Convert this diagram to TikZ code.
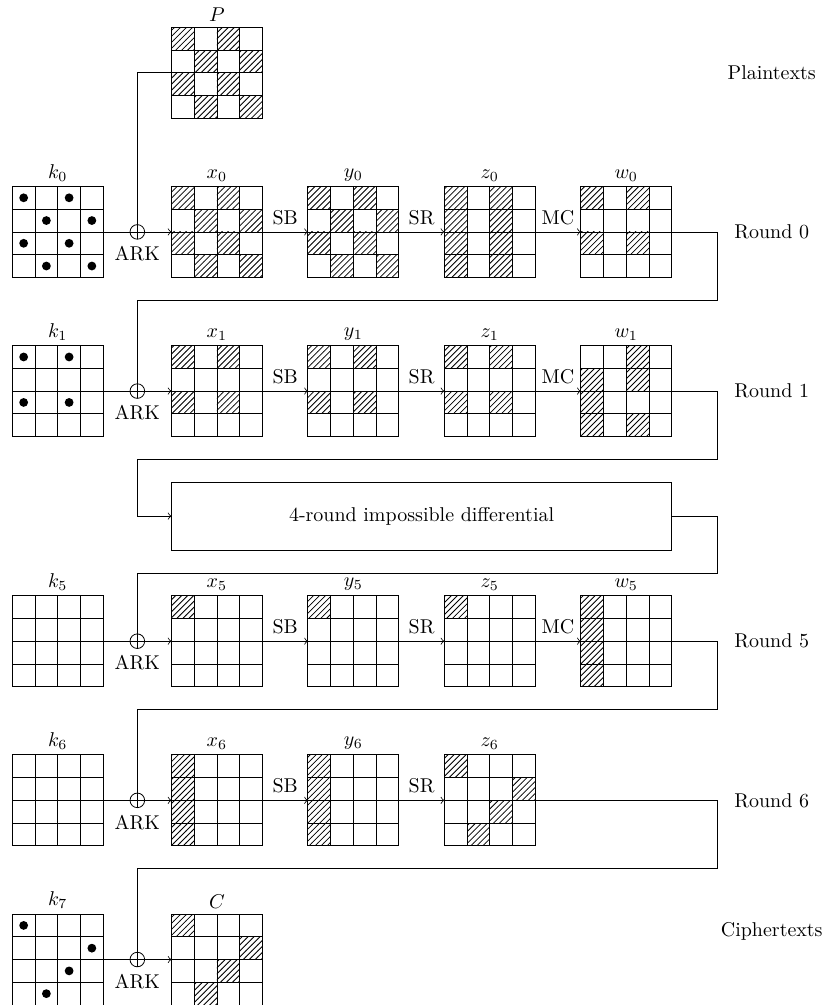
\documentclass[tikz,border=0pt]{standalone}
\usepackage{amsmath,amssymb}
\usepackage{tikz}
\usetikzlibrary{arrows.meta,patterns,positioning}
% 4x4 state: name, placement, label
\newcommand{\aesst}[3]{%
  \node[st,#2] (#1) {};
  \node[stlbl] (#1-lbl) at (#1.north) {$#3$};
  \foreach \i in {1,2,3}{
    \draw ([xshift=\i*4mm]#1.north west) -- ([xshift=\i*4mm]#1.south west);
    \draw ([yshift=-\i*4mm]#1.north west) -- ([yshift=-\i*4mm]#1.north east);
  }}
\newcommand{\hatchcells}[2]{%
  \foreach \c/\r in {#2}
    \draw[pattern=north east lines] ([xshift=\c*4mm,yshift=-\r*4mm]#1.north west) rectangle ++(4mm,-4mm);}
\newcommand{\keydots}[2]{%
  \foreach \c/\r in {#2}
    \fill ([xshift=\c*4mm+2mm,yshift=-\r*4mm-2mm]#1.north west) circle (2.2pt);}
% add-round-key xor
\newcommand{\ark}[2]{%
  \node[xor] (#1) at (#2) {};
  \draw (#1.north) -- (#1.south) (#1.west) -- (#1.east);
  \node[below] (#1-lbl) at (#1.south) {ARK};}

\begin{document}
\begin{tikzpicture}[x=4mm,y=4mm,>=to,
  st/.style={draw,minimum size=16mm,inner sep=0pt,outer sep=0pt},
  stlbl/.style={above,inner sep=2.5pt},
  xor/.style={draw,circle,minimum size=7.3pt,inner sep=0pt,outer sep=0pt},
  op/.style={midway,above},
  impbox/.style={draw,minimum width=88mm,minimum height=12mm,outer sep=0pt}]
  \useasboundingbox (-0.54,-36) rectangle (35.94,8.2);

  % round 0
  \aesst{k0}{at={(2,-2)}}{k_0}
  \aesst{x0}{right=12mm of k0}{x_0}
  \aesst{P}{above=12mm of x0}{P}
  \aesst{y0}{right=8mm of x0}{y_0}
  \aesst{z0}{right=8mm of y0}{z_0}
  \aesst{w0}{right=8mm of z0}{w_0}
  \keydots{k0}{0/0,2/0,1/1,3/1,0/2,2/2,1/3,3/3}
  \hatchcells{P}{0/0,2/0,1/1,3/1,0/2,2/2,1/3,3/3}
  \hatchcells{x0}{0/0,2/0,1/1,3/1,0/2,2/2,1/3,3/3}
  \hatchcells{y0}{0/0,2/0,1/1,3/1,0/2,2/2,1/3,3/3}
  \hatchcells{z0}{0/0,2/0,0/1,2/1,0/2,2/2,0/3,2/3}
  \hatchcells{w0}{0/0,2/0,0/2,2/2}
  \ark{a0}{[xshift=-6mm]x0.west}

  % round 1
  \aesst{k1}{below=12mm of k0}{k_1}
  \aesst{x1}{below=12mm of x0}{x_1}
  \aesst{y1}{right=8mm of x1}{y_1}
  \aesst{z1}{right=8mm of y1}{z_1}
  \aesst{w1}{right=8mm of z1}{w_1}
  \keydots{k1}{0/0,2/0,0/2,2/2}
  \hatchcells{x1}{0/0,2/0,0/2,2/2}
  \hatchcells{y1}{0/0,2/0,0/2,2/2}
  \hatchcells{z1}{0/0,2/0,0/2,2/2}
  \hatchcells{w1}{0/1,0/2,0/3,2/0,2/1,2/3}
  \ark{a1}{[xshift=-6mm]x1.west}

  \node[impbox,anchor=north west] (imp) at ([yshift=-8mm]x1.south west)
    {4-round impossible differential};

  % round 5
  \aesst{x5}{at={([yshift=-8mm]imp.south west)},anchor=north west}{x_5}
  \aesst{k5}{left=12mm of x5}{k_5}
  \aesst{y5}{right=8mm of x5}{y_5}
  \aesst{z5}{right=8mm of y5}{z_5}
  \aesst{w5}{right=8mm of z5}{w_5}
  \hatchcells{x5}{0/0}
  \hatchcells{y5}{0/0}
  \hatchcells{z5}{0/0}
  \hatchcells{w5}{0/0,0/1,0/2,0/3}
  \ark{a5}{[xshift=-6mm]x5.west}

  % round 6
  \aesst{k6}{below=12mm of k5}{k_6}
  \aesst{x6}{below=12mm of x5}{x_6}
  \aesst{y6}{right=8mm of x6}{y_6}
  \aesst{z6}{right=8mm of y6}{z_6}
  \hatchcells{x6}{0/0,0/1,0/2,0/3}
  \hatchcells{y6}{0/0,0/1,0/2,0/3}
  \hatchcells{z6}{0/0,3/1,2/2,1/3}
  \ark{a6}{[xshift=-6mm]x6.west}

  % final whitening
  \aesst{k7}{below=12mm of k6}{k_7}
  \aesst{C}{below=12mm of x6}{C}
  \keydots{k7}{0/0,3/1,2/2,1/3}
  \hatchcells{C}{0/0,3/1,2/2,1/3}
  \ark{a7}{[xshift=-6mm]C.west}

  % connections
  \draw (P.west) -| (a0.north);
  \foreach \r in {0,1,5,6}{
    \draw (k\r) -- (a\r);
    \draw[->] (a\r) -- (x\r);
    \draw[->] (x\r) -- node[op] (sb\r) {SB} (y\r);
    \draw[->] (y\r) -- node[op] (sr\r) {SR} (z\r);
  }
  \foreach \r in {0,1,5}
    \draw[->] (z\r) -- node[op] (mc\r) {MC} (w\r);
  \draw (k7) -- (a7);
  \draw[->] (a7) -- (C);
  \draw (w0.east) -- ++(8mm,0) -- ++(0,-12mm) -| (a1.north);
  \draw[->] (w1.east) -- ++(8mm,0) -- ++(0,-12mm) -- ++(-102mm,0) |- (imp.west);
  \draw (imp.east) -- ++(8mm,0) -- ++(0,-10mm) -| (a5.north);
  \draw (w5.east) -- ++(8mm,0) -- ++(0,-12mm) -| (a6.north);
  \draw (z6.east) -- ++(32mm,0) -- ++(0,-12mm) -| (a7.north);

  % side labels
  \node (rd0) at ([xshift=25.6mm]w0.center) {Round 0};
  \node (rd1) at (rd0 |- w1) {Round 1};
  \node (rd5) at (rd0 |- w5) {Round 5};
  \node (rd6) at (rd0 |- z6) {Round 6};
  \node (pt) at (rd0 |- P) {Plaintexts};
  \node (ct) at ([yshift=5mm]rd0 |- C) {Ciphertexts};
\end{tikzpicture}
\end{document}
